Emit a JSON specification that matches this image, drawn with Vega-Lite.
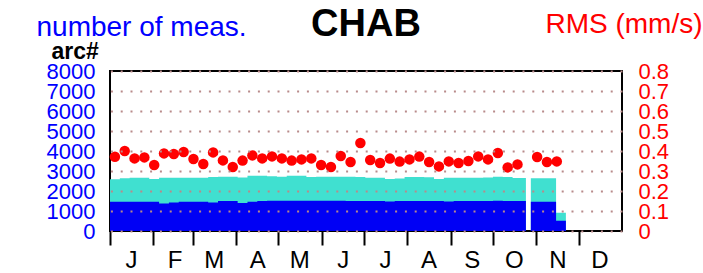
{
  "$schema": "https://vega.github.io/schema/vega-lite/v6.json",
  "autosize": "none",
  "width": 512,
  "height": 160,
  "padding": {"left": 110, "top": 71, "right": 81, "bottom": 42},
  "background": "white",
  "config": {
    "font": "Liberation Sans",
    "view": {"stroke": "black", "strokeWidth": 2},
    "axis": {"labelFont": "Liberation Sans", "titleFont": "Liberation Sans"}
  },
  "title": {"text": "CHAB", "fontSize": 38, "fontWeight": "bold", "color": "black", "anchor": "middle", "frame": "group", "font": "Liberation Sans", "baseline": "alphabetic", "offset": 0, "dy": 64},
  "datasets": {
    "bars": [
      {"date": "2019-01-01T00:00:00Z", "total": 2590, "blue": 1467},
      {"date": "2019-01-08T00:00:00Z", "total": 2640, "blue": 1467},
      {"date": "2019-01-15T00:00:00Z", "total": 2667, "blue": 1467},
      {"date": "2019-01-22T00:00:00Z", "total": 2667, "blue": 1467},
      {"date": "2019-01-29T00:00:00Z", "total": 2600, "blue": 1467},
      {"date": "2019-02-05T00:00:00Z", "total": 2667, "blue": 1380},
      {"date": "2019-02-12T00:00:00Z", "total": 2667, "blue": 1420},
      {"date": "2019-02-19T00:00:00Z", "total": 2667, "blue": 1467},
      {"date": "2019-02-26T00:00:00Z", "total": 2667, "blue": 1467},
      {"date": "2019-03-05T00:00:00Z", "total": 2667, "blue": 1467},
      {"date": "2019-03-12T00:00:00Z", "total": 2700, "blue": 1430},
      {"date": "2019-03-19T00:00:00Z", "total": 2717, "blue": 1500},
      {"date": "2019-03-26T00:00:00Z", "total": 2717, "blue": 1500},
      {"date": "2019-04-02T00:00:00Z", "total": 2680, "blue": 1400},
      {"date": "2019-04-09T00:00:00Z", "total": 2767, "blue": 1467},
      {"date": "2019-04-16T00:00:00Z", "total": 2767, "blue": 1500},
      {"date": "2019-04-23T00:00:00Z", "total": 2740, "blue": 1517},
      {"date": "2019-04-30T00:00:00Z", "total": 2717, "blue": 1517},
      {"date": "2019-05-07T00:00:00Z", "total": 2767, "blue": 1517},
      {"date": "2019-05-14T00:00:00Z", "total": 2767, "blue": 1517},
      {"date": "2019-05-21T00:00:00Z", "total": 2700, "blue": 1517},
      {"date": "2019-05-28T00:00:00Z", "total": 2717, "blue": 1517},
      {"date": "2019-06-04T00:00:00Z", "total": 2717, "blue": 1517},
      {"date": "2019-06-11T00:00:00Z", "total": 2717, "blue": 1517},
      {"date": "2019-06-18T00:00:00Z", "total": 2717, "blue": 1500},
      {"date": "2019-06-25T00:00:00Z", "total": 2700, "blue": 1500},
      {"date": "2019-07-02T00:00:00Z", "total": 2667, "blue": 1500},
      {"date": "2019-07-09T00:00:00Z", "total": 2667, "blue": 1500},
      {"date": "2019-07-16T00:00:00Z", "total": 2600, "blue": 1480},
      {"date": "2019-07-23T00:00:00Z", "total": 2620, "blue": 1500},
      {"date": "2019-07-30T00:00:00Z", "total": 2700, "blue": 1500},
      {"date": "2019-08-06T00:00:00Z", "total": 2700, "blue": 1500},
      {"date": "2019-08-13T00:00:00Z", "total": 2690, "blue": 1500},
      {"date": "2019-08-20T00:00:00Z", "total": 2600, "blue": 1500},
      {"date": "2019-08-27T00:00:00Z", "total": 2667, "blue": 1470},
      {"date": "2019-09-03T00:00:00Z", "total": 2667, "blue": 1500},
      {"date": "2019-09-10T00:00:00Z", "total": 2667, "blue": 1500},
      {"date": "2019-09-17T00:00:00Z", "total": 2667, "blue": 1500},
      {"date": "2019-09-24T00:00:00Z", "total": 2680, "blue": 1500},
      {"date": "2019-10-01T00:00:00Z", "total": 2717, "blue": 1510},
      {"date": "2019-10-08T00:00:00Z", "total": 2700, "blue": 1500},
      {"date": "2019-10-15T00:00:00Z", "total": 2650, "blue": 1500},
      {"date": "2019-10-22T00:00:00Z", "total": 2650, "blue": 1500},
      {"date": "2019-10-24T12:00:00Z", "total": 0, "blue": 0},
      {"date": "2019-10-28T00:00:00Z", "total": 2640, "blue": 1467},
      {"date": "2019-11-05T00:00:00Z", "total": 2640, "blue": 1467},
      {"date": "2019-11-12T00:00:00Z", "total": 2640, "blue": 1467},
      {"date": "2019-11-15T00:00:00Z", "total": 915, "blue": 515},
      {"date": "2019-11-22T00:00:00Z", "total": 0, "blue": 0}
    ],
    "rms": [
      {"date": "2019-01-04T12:00:00Z", "rms": 0.371},
      {"date": "2019-01-11T12:00:00Z", "rms": 0.4},
      {"date": "2019-01-18T12:00:00Z", "rms": 0.363},
      {"date": "2019-01-25T12:00:00Z", "rms": 0.368},
      {"date": "2019-02-01T12:00:00Z", "rms": 0.33},
      {"date": "2019-02-08T12:00:00Z", "rms": 0.388},
      {"date": "2019-02-15T12:00:00Z", "rms": 0.385},
      {"date": "2019-02-22T12:00:00Z", "rms": 0.395},
      {"date": "2019-03-01T12:00:00Z", "rms": 0.36},
      {"date": "2019-03-08T12:00:00Z", "rms": 0.335},
      {"date": "2019-03-15T12:00:00Z", "rms": 0.393},
      {"date": "2019-03-22T12:00:00Z", "rms": 0.353},
      {"date": "2019-03-29T12:00:00Z", "rms": 0.32},
      {"date": "2019-04-05T12:00:00Z", "rms": 0.352},
      {"date": "2019-04-12T12:00:00Z", "rms": 0.378},
      {"date": "2019-04-19T12:00:00Z", "rms": 0.363},
      {"date": "2019-04-26T12:00:00Z", "rms": 0.373},
      {"date": "2019-05-03T12:00:00Z", "rms": 0.363},
      {"date": "2019-05-10T12:00:00Z", "rms": 0.352},
      {"date": "2019-05-17T12:00:00Z", "rms": 0.358},
      {"date": "2019-05-24T12:00:00Z", "rms": 0.363},
      {"date": "2019-05-31T12:00:00Z", "rms": 0.33},
      {"date": "2019-06-07T12:00:00Z", "rms": 0.32},
      {"date": "2019-06-14T12:00:00Z", "rms": 0.375},
      {"date": "2019-06-21T12:00:00Z", "rms": 0.345},
      {"date": "2019-06-28T12:00:00Z", "rms": 0.44},
      {"date": "2019-07-05T12:00:00Z", "rms": 0.355},
      {"date": "2019-07-12T12:00:00Z", "rms": 0.34},
      {"date": "2019-07-19T12:00:00Z", "rms": 0.362},
      {"date": "2019-07-26T12:00:00Z", "rms": 0.347},
      {"date": "2019-08-02T12:00:00Z", "rms": 0.358},
      {"date": "2019-08-09T12:00:00Z", "rms": 0.372},
      {"date": "2019-08-16T12:00:00Z", "rms": 0.345},
      {"date": "2019-08-23T12:00:00Z", "rms": 0.323},
      {"date": "2019-08-30T12:00:00Z", "rms": 0.348},
      {"date": "2019-09-06T12:00:00Z", "rms": 0.34},
      {"date": "2019-09-13T12:00:00Z", "rms": 0.35},
      {"date": "2019-09-20T12:00:00Z", "rms": 0.373},
      {"date": "2019-09-27T12:00:00Z", "rms": 0.358},
      {"date": "2019-10-04T12:00:00Z", "rms": 0.39},
      {"date": "2019-10-11T12:00:00Z", "rms": 0.318},
      {"date": "2019-10-18T12:00:00Z", "rms": 0.333},
      {"date": "2019-11-01T12:00:00Z", "rms": 0.37},
      {"date": "2019-11-08T12:00:00Z", "rms": 0.345},
      {"date": "2019-11-15T12:00:00Z", "rms": 0.348}
    ]
  },
  "layer": [
    {
      "data": {"name": "bars"},
      "mark": {"type": "area", "interpolate": "step-after", "color": "#40e0d0"},
      "encoding": {
        "x": {
          "field": "date", "type": "temporal",
          "scale": {"type": "utc", "nice": false, "domain": [{"year": 2019, "month": 1, "date": 1, "utc": true}, {"year": 2019, "month": 12, "date": 31, "hours": 23, "minutes": 59, "utc": true}]},
          "axis": {
            "orient": "bottom", "title": null, "grid": false, "domain": false,
            "tickCount": {"interval": "month", "step": 1},
            "ticks": true, "tickSize": 14, "tickWidth": 2, "tickColor": "black",
            "labelExpr": "slice(utcFormat(datum.value, '%b'), 0, 1)",
            "labelAlign": "center", "labelBaseline": "top", "labelOffset": 21, "labelPadding": 3,
            "labelFontSize": 24, "labelColor": "black", "labelFlush": false, "labelOverlap": false, "labelBound": false
          }
        },
        "y": {
          "field": "total", "type": "quantitative",
          "scale": {"domain": [0, 8000], "nice": false},
          "axis": {
            "orient": "left", "values": [0, 1000, 2000, 3000, 4000, 5000, 6000, 7000, 8000], "format": "d",
            "grid": false, "domain": false, "ticks": false, "tickSize": 0,
            "labelFontSize": 22, "labelColor": "#0000ff", "labelPadding": 15, "labelOverlap": false, "labelFlush": false, "labelBound": false,
            "title": "number of meas.", "titleAngle": 0, "titleAlign": "left", "titleBaseline": "alphabetic",
            "titleX": -74, "titleY": -36, "titleFontSize": 28, "titleFontWeight": "normal", "titleColor": "#0000ff"
          }
        }
      }
    },
    {
      "data": {"name": "bars"},
      "mark": {"type": "area", "interpolate": "step-after", "color": "#0000f5"},
      "encoding": {
        "x": {"field": "date", "type": "temporal", "axis": null},
        "y": {"field": "blue", "type": "quantitative", "scale": {"domain": [0, 8000], "nice": false}, "axis": null}
      }
    },
    {
      "data": {"name": "rms"},
      "mark": {"type": "point", "filled": true, "color": "#ff0000", "size": 110, "opacity": 1},
      "encoding": {
        "x": {
          "field": "date", "type": "temporal",
          "axis": {
            "orient": "top", "labels": false, "ticks": false, "domain": false, "grid": false,
            "title": "arc#", "titleAngle": 0, "titleAlign": "left", "titleBaseline": "alphabetic",
            "titleX": -59, "titleY": -13, "titleFontSize": 23, "titleFontWeight": "bold", "titleColor": "black"
          }
        },
        "y": {
          "field": "rms", "type": "quantitative",
          "scale": {"domain": [0, 0.8], "nice": false},
          "axis": {
            "orient": "right", "values": [0, 0.1, 0.2, 0.3, 0.4, 0.5, 0.6, 0.7, 0.8], "format": ".1~f",
            "domain": false, "ticks": false, "tickSize": 0,
            "grid": true, "gridColor": "#b88a8a", "gridDash": [2, 7.8], "gridWidth": 2, "zindex": 1,
            "labelFontSize": 22, "labelColor": "#ff0000", "labelPadding": 16, "labelOverlap": false, "labelFlush": false, "labelBound": false,
            "title": "RMS (mm/s)", "titleAngle": 0, "titleAlign": "right", "titleBaseline": "alphabetic",
            "titleX": 80, "titleY": -39, "titleFontSize": 28, "titleFontWeight": "normal", "titleColor": "#ff0000"
          }
        }
      }
    }
  ],
  "resolve": {"scale": {"y": "independent"}, "axis": {"x": "independent"}}
}
